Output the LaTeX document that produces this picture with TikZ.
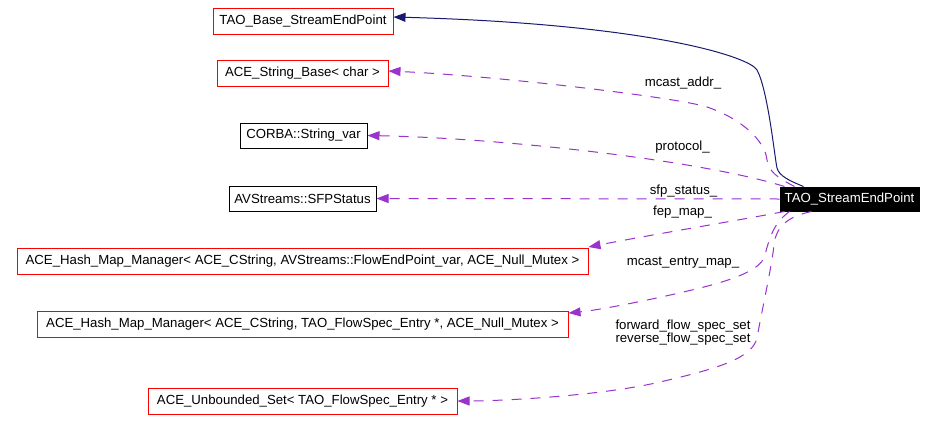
\documentclass[tikz,border=0pt]{standalone}
\usepackage{fontspec}
\setmainfont{Liberation Sans}
\usetikzlibrary{arrows.meta,calc}
\definecolor{edgeblue}{RGB}{25,25,112}
\definecolor{edgepurple}{RGB}{154,50,205}
\begin{document}
\begin{tikzpicture}[x=1pt,y=-1pt,
 box/.style={draw, line width=1pt, minimum height=26pt, inner sep=0pt, font=\fontsize{13.2}{15}\selectfont},
 redbox/.style={box, draw=red},
 blackbox/.style={box, draw=black},
 mainbox/.style={box, fill=black, text=white, draw=black, minimum height=24pt},
 inh/.style={edgeblue, line width=1pt, -{Triangle[length=12pt,width=9pt]}},
 use/.style={edgepurple, line width=1pt, dash pattern=on 10pt off 9pt, -{Triangle[length=12pt,width=9pt]}},
 lbl/.style={font=\fontsize{13.2}{13}\selectfont, inner sep=0pt, align=center}
]
\fill[white] (0,0) rectangle (936,431);
\useasboundingbox (0,0) rectangle (936,431);

\node[redbox, minimum width=180pt] (base) at (303,21) {TAO\_Base\_StreamEndPoint};
\node[redbox, minimum width=171pt] (str) at (302.5,73) {ACE\_String\_Base< char >};
\node[blackbox, minimum width=127pt, minimum height=25pt] (corba) at (303.5,135.5) {CORBA::String\_var};
\node[blackbox, minimum width=147pt, minimum height=25pt] (sfp) at (302.5,198.5) {AVStreams::SFPStatus};
\node[redbox, minimum width=571pt] (hm1) at (302.5,261) {ACE\_Hash\_Map\_Manager< ACE\_CString, AVStreams::FlowEndPoint\_var, ACE\_Null\_Mutex >};
\node[redbox, minimum width=531pt] (hm2) at (302.5,324) {ACE\_Hash\_Map\_Manager< ACE\_CString, TAO\_FlowSpec\_Entry *, ACE\_Null\_Mutex >};
\node[redbox, minimum width=309pt] (uset) at (302.5,401) {ACE\_Unbounded\_Set< TAO\_FlowSpec\_Entry * >};
\node[mainbox, minimum width=139pt] (tse) at (849.5,199) {TAO\_StreamEndPoint};

% inheritance
\draw[inh] ([xshift=24pt]tse.north west) .. controls (790,181) and (779,176) .. (777,168)
  .. controls (775,160) and (768,90) .. (757,70)
  .. controls (750,57) and (650,24) .. ([yshift=4pt]base.east);

% usage
\draw[use] ([xshift=15pt]tse.north west) .. controls (778,178) and (769,172) .. (767,160)
  .. controls (765,140) and (740,118) .. (707,107)
  .. controls (680,98) and (500,76) .. ([yshift=2pt]str.east);
\draw[use] ([xshift=5pt]tse.north west) .. controls (700,160) and (500,138) .. (corba.east);
\draw[use] (tse.west) -- (sfp.east);
\draw[use] ([xshift=5pt]tse.south west) .. controls (740,220) and (650,235) .. ([yshift=14pt]hm1.east);
\draw[use] ([xshift=10pt]tse.south west) .. controls (775,222) and (770,235) .. (765,255)
  .. controls (762,268) and (740,278) .. (700,288)
  .. controls (660,298) and (600,310) .. ([yshift=11pt]hm2.east);
\draw[use] ([xshift=32pt]tse.south west) .. controls (790,216) and (776,225) .. (774,245)
  .. controls (772,265) and (762,310) .. (757,338)
  .. controls (752,358) and (720,368) .. (660,382)
  .. controls (600,396) and (500,401) .. (uset.east);

\node[lbl] (l1) at (683,83) {mcast\_addr\_};
\node[lbl] (l2) at (682.5,147) {protocol\_};
\node[lbl] (l3) at (683.5,191) {sfp\_status\_};
\node[lbl] (l4) at (682.5,212) {fep\_map\_};
\node[lbl] (l5) at (683,263) {mcast\_entry\_map\_};
\node[lbl] (l6) at (683,332.5) {forward\_flow\_spec\_set\\reverse\_flow\_spec\_set};
\end{tikzpicture}
\end{document}
